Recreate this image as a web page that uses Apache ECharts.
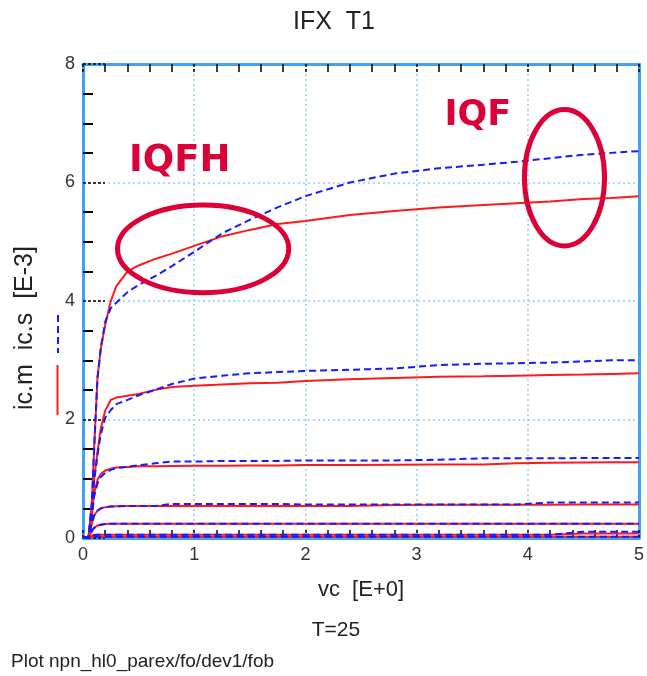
<!DOCTYPE html>
<html><head><meta charset="utf-8">
<script src="https://cdn.jsdelivr.net/npm/echarts@6/dist/echarts.min.js"></script>
<style>html,body{margin:0;padding:0;background:#fff}#c{width:647px;height:676px}</style>
</head><body><div id="c"></div>
<script>
// ---- data ----
const vc   = [0, 0.05, 0.08, 0.1, 0.13, 0.16, 0.2, 0.25, 0.3, 0.4, 0.5, 0.65, 0.8, 1.0, 1.25, 1.5, 1.75, 2.0, 2.4, 2.8, 3.2, 3.6, 3.9, 4.2, 4.5, 4.75, 5.0];
const icm1 = [0, 0.02, 0.6, 1.5, 2.7, 3.2, 3.6, 4.0, 4.25, 4.5, 4.6, 4.71, 4.8, 4.93, 5.09, 5.2, 5.3, 5.35, 5.45, 5.52, 5.58, 5.62, 5.65, 5.68, 5.72, 5.74, 5.77];
const ics1 = [0, 0.02, 0.6, 1.5, 2.7, 3.2, 3.65, 3.88, 3.97, 4.15, 4.27, 4.42, 4.59, 4.83, 5.14, 5.37, 5.58, 5.77, 6.0, 6.15, 6.24, 6.3, 6.35, 6.41, 6.47, 6.5, 6.53];
const icm2 = [0, 0.02, 0.5, 1.0, 1.45, 1.85, 2.15, 2.33, 2.37, 2.4, 2.43, 2.5, 2.55, 2.57, 2.59, 2.61, 2.62, 2.65, 2.68, 2.7, 2.72, 2.73, 2.74, 2.75, 2.76, 2.77, 2.78];
const ics2 = [0, 0.02, 0.5, 0.95, 1.4, 1.75, 2.03, 2.16, 2.26, 2.33, 2.41, 2.5, 2.6, 2.69, 2.74, 2.78, 2.8, 2.82, 2.84, 2.86, 2.92, 2.94, 2.95, 2.96, 2.98, 3.0, 3.0];
const icm3 = [0, 0.02, 0.4, 0.75, 0.98, 1.08, 1.14, 1.17, 1.19, 1.2, 1.21, 1.21, 1.215, 1.22, 1.22, 1.225, 1.225, 1.23, 1.23, 1.235, 1.24, 1.24, 1.26, 1.27, 1.275, 1.28, 1.28];
const ics3 = [0, 0.02, 0.35, 0.7, 0.92, 1.03, 1.1, 1.15, 1.18, 1.2, 1.23, 1.26, 1.29, 1.29, 1.3, 1.3, 1.3, 1.31, 1.31, 1.31, 1.32, 1.345, 1.345, 1.345, 1.35, 1.35, 1.35];
const icm4 = [0, 0.02, 0.25, 0.38, 0.46, 0.5, 0.52, 0.53, 0.535, 0.54, 0.54, 0.54, 0.54, 0.54, 0.54, 0.54, 0.54, 0.54, 0.54, 0.555, 0.56, 0.56, 0.56, 0.56, 0.565, 0.565, 0.565];
const ics4 = [0, 0.02, 0.25, 0.38, 0.46, 0.5, 0.52, 0.53, 0.535, 0.54, 0.54, 0.54, 0.575, 0.575, 0.575, 0.575, 0.575, 0.565, 0.565, 0.565, 0.565, 0.565, 0.565, 0.6, 0.6, 0.6, 0.6];
const icm5 = [0, 0.01, 0.12, 0.17, 0.21, 0.225, 0.235, 0.24, 0.24, 0.24, 0.24, 0.24, 0.24, 0.24, 0.24, 0.24, 0.24, 0.24, 0.24, 0.24, 0.24, 0.24, 0.24, 0.24, 0.24, 0.24, 0.24];
const ics5 = [0, 0.01, 0.12, 0.17, 0.21, 0.225, 0.235, 0.24, 0.24, 0.24, 0.24, 0.24, 0.24, 0.24, 0.24, 0.24, 0.24, 0.24, 0.24, 0.24, 0.24, 0.24, 0.24, 0.24, 0.24, 0.24, 0.24];
const icm6 = [0, 0.005, 0.04, 0.05, 0.055, 0.055, 0.055, 0.055, 0.055, 0.055, 0.055, 0.055, 0.055, 0.055, 0.055, 0.055, 0.055, 0.055, 0.055, 0.055, 0.055, 0.055, 0.055, 0.055, 0.075, 0.075, 0.075];
const ics6 = [0, 0.005, 0.04, 0.05, 0.055, 0.055, 0.055, 0.055, 0.055, 0.055, 0.055, 0.055, 0.055, 0.055, 0.055, 0.055, 0.055, 0.055, 0.055, 0.055, 0.055, 0.055, 0.055, 0.055, 0.105, 0.105, 0.105];
const icm7 = [0, 0.005, 0.015, 0.02, 0.02, 0.02, 0.02, 0.02, 0.02, 0.02, 0.02, 0.02, 0.02, 0.02, 0.02, 0.02, 0.02, 0.02, 0.02, 0.02, 0.02, 0.02, 0.02, 0.02, 0.02, 0.02, 0.02];
const ics7 = [0, 0.005, 0.015, 0.02, 0.02, 0.02, 0.02, 0.02, 0.02, 0.02, 0.02, 0.02, 0.02, 0.02, 0.02, 0.02, 0.02, 0.02, 0.02, 0.02, 0.02, 0.02, 0.02, 0.02, 0.02, 0.02, 0.02];
const xTicks = [0, 1, 2, 3, 4, 5];
const yTicks = [0, 2, 4, 6, 8];

// ---- styling ----
const RED = '#ff1a1a', BLUE = '#1a1aff', FRAME = '#3fa2f7', GRIDC = '#8fd0ff', ANN = '#dc0038';
const FONT = '"Liberation Sans", Arial, sans-serif';
const measured = [icm1, icm2, icm3, icm4, icm5, icm6, icm7];
const simulated = [ics1, ics2, ics3, ics4, ics5, ics6, ics7];

const series = [];
measured.forEach((arr) => series.push({
  type: 'line', name: 'ic.m', data: vc.map((x, i) => [x, arr[i]]), showSymbol: false,
  lineStyle: { color: RED, width: 2 }, z: 2, silent: true
}));
simulated.forEach((arr) => series.push({
  type: 'line', name: 'ic.s', data: vc.map((x, i) => [x, arr[i]]), showSymbol: false,
  lineStyle: { color: BLUE, width: 2, type: [7, 4] }, z: 3, silent: true
}));

const chart = echarts.init(document.getElementById('c'), null, { renderer: 'canvas' });
const frameLine = { show: true, onZero: false, lineStyle: { color: FRAME, width: 3 } };
const dotted = { show: true, lineStyle: { color: GRIDC, width: 1.5, type: [2, 3] } };

chart.setOption({
  animation: false,
  backgroundColor: '#fff',
  textStyle: { fontFamily: FONT },
  grid: { left: 83, right: 4, top: 64, bottom: 138, containLabel: false },
  xAxis: [{
    type: 'value', position: 'bottom', min: xTicks[0], max: xTicks[xTicks.length - 1], interval: 1,
    axisLine: frameLine,
    axisTick: { show: true, inside: true, length: 9, lineStyle: { color: '#000', width: 1.5, type: [3, 2] } },
    minorTick: { show: true, splitNumber: 5, length: 8, lineStyle: { color: '#000', width: 1.5 } },
    splitLine: dotted,
    axisLabel: { fontSize: 18, color: '#333', margin: 8, fontFamily: FONT },
    name: 'vc  [E+0]', nameLocation: 'middle', nameGap: 41,
    nameTextStyle: { fontSize: 22, color: '#222', fontFamily: FONT }
  }, {
    type: 'value', position: 'top', min: xTicks[0], max: xTicks[xTicks.length - 1], interval: 1,
    axisLine: frameLine,
    axisTick: { show: true, inside: true, length: 9, lineStyle: { color: '#000', width: 1.5, type: [3, 2] } },
    minorTick: { show: true, splitNumber: 5, length: 8, lineStyle: { color: '#000', width: 1.5 } },
    splitLine: { show: false }, axisLabel: { show: false }
  }],
  yAxis: [{
    type: 'value', position: 'left', min: yTicks[0], max: yTicks[yTicks.length - 1], interval: 2,
    axisLine: frameLine,
    axisTick: { show: true, inside: true, length: 22, lineStyle: { color: '#000', width: 1.5, type: [3, 2] } },
    minorTick: { show: true, splitNumber: 4, length: 10, lineStyle: { color: '#000', width: 2 } },
    splitLine: dotted,
    axisLabel: { fontSize: 18, color: '#333', margin: 8, fontFamily: FONT }
  }, {
    type: 'value', position: 'right', min: yTicks[0], max: yTicks[yTicks.length - 1], interval: 2,
    axisLine: frameLine, axisTick: { show: false }, splitLine: { show: false }, axisLabel: { show: false }
  }],
  series: series
});

// ---- annotations (anchored in data coordinates) ----
const annText = [
  { text: 'IQFH', at: [0.87, 6.36], size: 37 },
  { text: 'IQF', at: [3.55, 7.12], size: 35 }
];
const annEllipse = [
  { at: [1.08, 4.88], rx: 0.77, ry: 0.74 },
  { at: [4.33, 6.08], rx: 0.36, ry: 1.15 }
];
const px = (p) => chart.convertToPixel({ xAxisIndex: 0, yAxisIndex: 0 }, p);
const graphics = [];
annText.forEach(a => {
  const p = px(a.at);
  graphics.push({ type: 'text', x: p[0], y: p[1], z: 50,
    style: { text: a.text, fill: ANN, font: 'bold ' + a.size + 'px "DejaVu Sans", sans-serif', align: 'center', verticalAlign: 'middle' } });
});
annEllipse.forEach(e => {
  const c = px(e.at);
  const r = px([e.at[0] + e.rx, e.at[1] + e.ry]);
  graphics.push({ type: 'ellipse', z: 50, shape: { cx: c[0], cy: c[1], rx: Math.abs(r[0] - c[0]), ry: Math.abs(c[1] - r[1]) },
    style: { fill: 'none', stroke: ANN, lineWidth: 5 } });
});
// title, y-axis name with legend keys, footer texts
graphics.push({ type: 'text', x: 334, y: 22, style: { text: 'IFX  T1', fill: '#222', font: '25px ' + FONT, align: 'center', verticalAlign: 'middle' } });
graphics.push({ type: 'text', x: 25, y: 328, rotation: Math.PI / 2, style: { text: 'ic.m  ic.s  [E-3]', fill: '#222', font: '25px ' + FONT, align: 'center', verticalAlign: 'middle' } });
graphics.push({ type: 'line', shape: { x1: 57.5, y1: 365, x2: 57.5, y2: 415 }, style: { stroke: RED, lineWidth: 2 } });
graphics.push({ type: 'line', shape: { x1: 58, y1: 315, x2: 58, y2: 353 }, style: { stroke: BLUE, lineWidth: 2, lineDash: [7, 4] } });
graphics.push({ type: 'text', x: 336, y: 630, style: { text: 'T=25', fill: '#222', font: '21px ' + FONT, align: 'center', verticalAlign: 'middle' } });
graphics.push({ type: 'text', x: 11, y: 662, style: { text: 'Plot npn_hl0_parex/fo/dev1/fob', fill: '#222', font: '19px ' + FONT, align: 'left', verticalAlign: 'middle' } });
chart.setOption({ graphic: graphics });
</script>
</body></html>
